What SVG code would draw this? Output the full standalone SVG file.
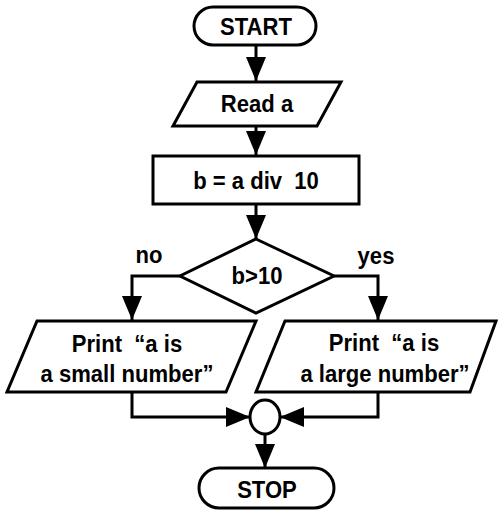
<svg xmlns="http://www.w3.org/2000/svg" width="498" height="511" viewBox="0 0 498 511">
  <defs>
    <marker id="arrow" markerUnits="userSpaceOnUse" markerWidth="24" markerHeight="20" refX="24" refY="10" orient="auto">
      <path d="M0,0 L24,10 L0,20 Z" fill="#000"/>
    </marker>
    <style>
      .shape { fill: #fff; stroke: #000; stroke-width: 3; }
      .conn { fill: none; stroke: #000; stroke-width: 3; marker-end: url(#arrow); }
      text { font-family: "Liberation Sans", Arial, sans-serif; font-weight: bold; font-size: 24px; fill: #000; text-anchor: middle; }
    </style>
  </defs>
  <rect width="498" height="511" fill="#fff"/>
  <g id="connectors">
    <line class="conn" x1="256" y1="45" x2="256" y2="81"/>
    <line class="conn" x1="256" y1="126" x2="256" y2="155"/>
    <line class="conn" x1="256" y1="204" x2="256" y2="239"/>
    <polyline class="conn" points="180,276 132,276 132,320"/>
    <polyline class="conn" points="334,276 378,276 378,320"/>
    <polyline class="conn" points="132,392 132,417 250,417"/>
    <polyline class="conn" points="378,392 378,417 280,417"/>
    <line class="conn" x1="265" y1="434" x2="265" y2="468"/>
    <text transform="translate(149,263) scale(0.92,1)">no</text>
    <text transform="translate(376,264) scale(0.92,1)">yes</text>
  </g>
  <g id="start">
    <rect class="shape" x="194" y="7" width="122" height="38" rx="19"/>
    <text transform="translate(256,35) scale(0.92,1)">START</text>
  </g>
  <g id="read">
    <polygon class="shape" points="197,82 341,82 317,126 173,126"/>
    <text transform="translate(257,112) scale(0.92,1)">Read a</text>
  </g>
  <g id="compute">
    <rect class="shape" x="153" y="156" width="206" height="48"/>
    <text transform="translate(256,189) scale(0.92,1)" xml:space="preserve">b = a div  10</text>
  </g>
  <g id="decision">
    <polygon class="shape" points="256,239 334,276 256,313 180,276"/>
    <text transform="translate(257,284) scale(0.92,1)">b&gt;10</text>
  </g>
  <g id="print-small">
    <polygon class="shape" points="37,321 256,321 226,392 7,392"/>
    <text transform="translate(127,352) scale(0.92,1)" xml:space="preserve">Print  “a is</text>
    <text transform="translate(127,382) scale(0.92,1)">a small number”</text>
  </g>
  <g id="print-large">
    <polygon class="shape" points="285,321 496,321 470,392 256,392"/>
    <text transform="translate(384,351) scale(0.92,1)" xml:space="preserve">Print  “a is</text>
    <text transform="translate(385,382) scale(0.92,1)">a large number”</text>
  </g>
  <g id="join">
    <ellipse class="shape" cx="265" cy="417" rx="15" ry="17"/>
  </g>
  <g id="stop">
    <rect class="shape" x="199" y="468" width="135" height="40" rx="20"/>
    <text transform="translate(267,498) scale(0.92,1)">STOP</text>
  </g>
</svg>
